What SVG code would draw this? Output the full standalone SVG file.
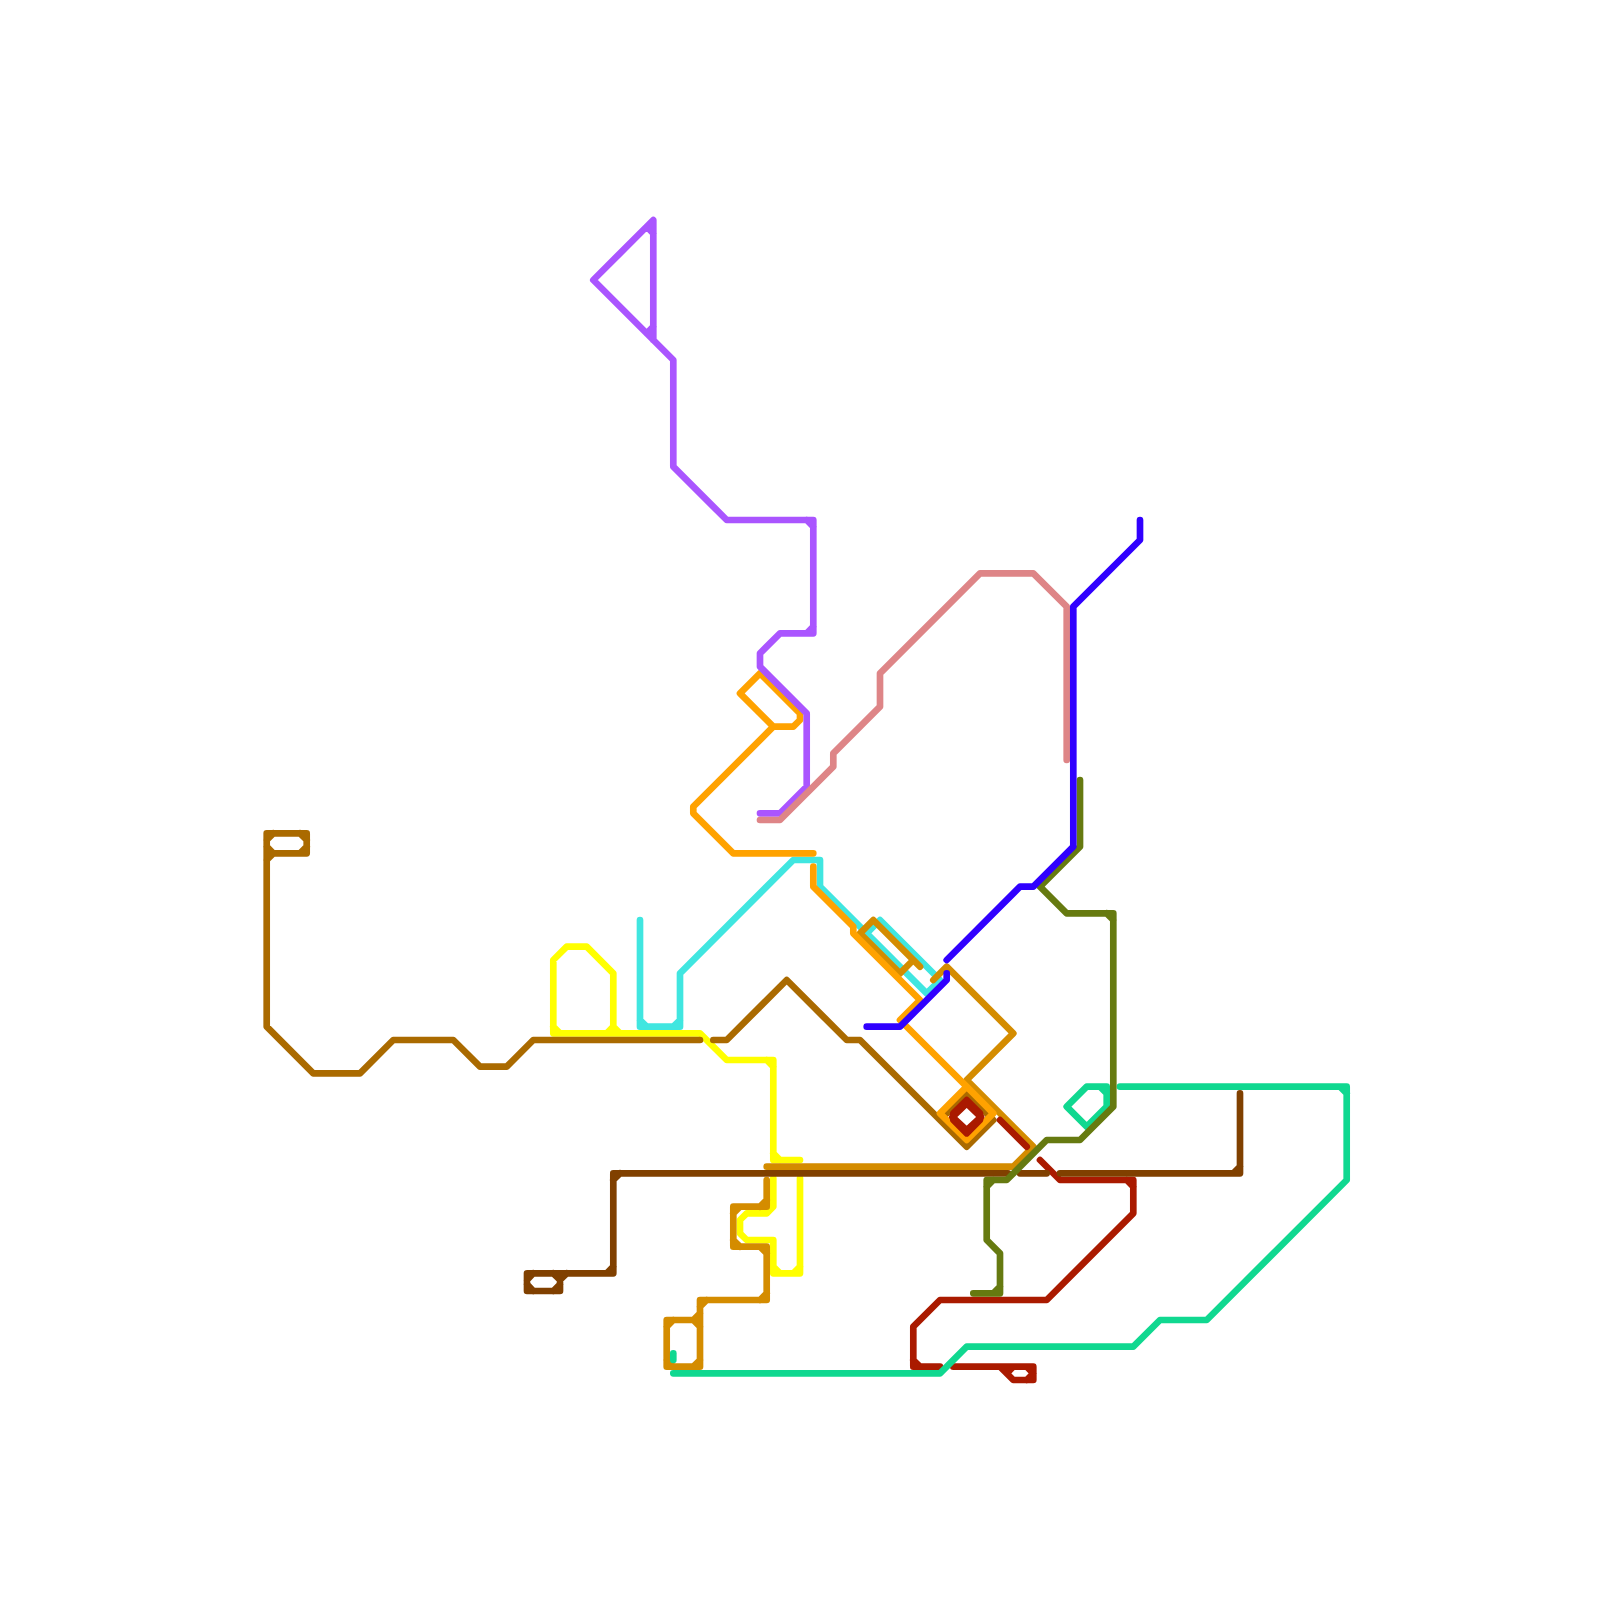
<svg xmlns="http://www.w3.org/2000/svg" width="1600" height="1600" viewBox="0 0 1600 1600">
<style>
path{fill:none;stroke-width:6.67;stroke-linejoin:round;stroke-linecap:round}
.purple{stroke:#aa55ff}.pink{stroke:#de8587}.blue{stroke:#3000ff}.olive{stroke:#667a10}.teal{stroke:#10d890}.red{stroke:#aa1a00}.bronze{stroke:#aa6a00}.orange{stroke:#ffa200}.gold{stroke:#d48c00}.yellow{stroke:#ffff00}.cyan{stroke:#40e6e0}.brown{stroke:#804000}
</style>
<rect width="1600" height="1600" fill="#ffffff"/>
<g id="connectors">
<g id="line-cyan"><path class="cyan" d="M640 920V1026.7H680V973.3L793.3 860H820V886.7L926.7 993.3L940 980L880 920L866.7 933.3M640 1020L646.7 1026.7M673.3 1026.7L680 1020"/></g>
<g id="line-yellow"><path class="yellow" d="M553.3 1033.3H700L726.7 1060H773.3V1160H800M553.3 1033.3V960L566.7 946.7H586.7L613.3 973.3V1033.3M553.3 1026.7L560 1033.3M606.7 1033.3L613.3 1026.7L620 1033.3M766.7 1060L773.3 1066.7M773.3 1153.3L780 1160M773.3 1178V1206.7L766.7 1213.3H746.7L740 1220V1233.3L746.7 1240H773.3V1273.3H800V1178M773.3 1266.7L780 1273.3M793.3 1273.3L800 1266.7"/></g>
<g id="line-bronze"><path class="bronze" d="M700 1040H533.3L506.7 1066.7H480L453.3 1040H393.3L360 1073.3H313.3L266.7 1026.7V833.3H306.7V853.3H273.3L266.7 860M266.7 840L273.3 833.3M266.7 846.7L273.3 853.3M300 833.3L306.7 840M300 853.3L306.7 846.7"/><path class="bronze" d="M713.3 1040H726.7L786.7 980L846.7 1040H860L966.7 1146.7L993.3 1120L966.7 1093.3L946.7 1113.3"/></g>
<g id="line-gold"><path class="gold" d="M766.7 1166.7H1013.3L1033.3 1146.7L966.7 1080L1013.3 1033.3L946.7 966.7L933.3 980M920 966.7L873.3 920L860 933.3L900 973.3L913.3 960"/><path class="gold" d="M766.7 1180V1206.7H733.3V1246.7H766.7V1300H700V1366.7H666.7V1320H700M760 1206.7L766.7 1200M733.3 1213.3L740 1206.7M733.3 1240L740 1246.7M760 1246.7L766.7 1253.3M760 1300L766.7 1293.3M700 1306.7L706.7 1300M693.3 1320L700 1313.3M666.7 1326.7L673.3 1320M693.3 1320L700 1326.7M666.7 1360L673.3 1366.7M693.3 1366.7L700 1360"/></g>
<g id="line-orange"><path class="orange" d="M813.3 853.3H733.3L693.3 813.3V806.7L773.3 726.7H793.3L800 720V713.3L760 673.3L740 693.3L773.3 726.7"/><path class="orange" d="M813.3 866.7V886.7L853.3 926.7V933.3L920 1000L900 1020L966.7 1086.7L993.3 1113.3L966.7 1140L940 1113.3L966.7 1086.7"/></g>
<g id="line-red"><path class="red" d="M1040 1160L1060 1180H1133.3V1213.3L1046.7 1300H940L913.3 1326.7V1366.7H940M1126.7 1180L1133.3 1186.7M913.3 1360L920 1366.7"/><path class="red" d="M953.3 1366.7H1033.3V1380H1013.3L1000 1366.7M1026.7 1366.7L1033.3 1373.3M1026.7 1380L1033.3 1373.3M1013.3 1366.7L1006.7 1373.3"/><path class="red" d="M1000 1120L1026.7 1146.7"/><path class="red" d="M966.7 1100L980 1113.3V1120L966.7 1133.3L953.3 1120V1113.3Z"/><path class="red" d="M966.7 1103.3L981 1117L966.7 1130.3L952.4 1117Z"/></g>
<g id="line-brown"><path class="brown" d="M1008 1173.3H613.3V1273.3H527V1291H560V1280L566.7 1273.3M613.3 1180L620 1173.3M606.7 1273.3L613.3 1266.7M527 1280L533.3 1273.3M527 1284.3L533.3 1291M553.3 1273.3L560 1280M553.3 1291L560 1284.3"/><path class="brown" d="M1020 1173.3H1046.7"/><path class="brown" d="M1060 1173.3H1240V1093.3M1233.3 1173.3L1240 1166.7"/></g>
<g id="line-teal"><path class="teal" d="M1120 1086.7H1346.7V1180L1206.7 1320H1160L1133.3 1346.7H966.7L940 1373.3H673.3M1340 1086.7L1346.7 1093.3"/><path class="teal" d="M673.3 1353.3V1360"/><path class="teal" d="M1086.7 1126.7L1066.7 1106.7L1086.7 1086.7H1106.7V1106.7L1086.7 1126.7M1100 1086.7L1106.7 1093.3"/></g>
<g id="line-olive"><path class="olive" d="M1080 780V846.7L1040 886.7L1066.7 913.3H1113.3V1106.7L1080 1140H1046.7L1006.7 1180H986.7V1240L1000 1253.3V1293.3H973.3M1106.7 913.3L1113.3 920M986.7 1186.7L993.3 1180M993.3 1293.3L1000 1286.7"/></g>
<g id="line-purple"><path class="purple" d="M760 813.3H780L806.7 786.7V713.3L760 666.7V653.3L780 633.3H813.3V520H726.7L673.3 466.7V360L593.3 280L653.3 220V340M806.7 633.3L813.3 626.7M806.7 520L813.3 526.7M646.7 226.7L653.3 233.3M646.7 333.3L653.3 326.7"/></g>
<g id="line-pink"><path class="pink" d="M760 820H780L833.3 766.7V753.3L880 706.7V673.3L980 573.3H1033.3L1066.7 606.7V760"/></g>
<g id="line-blue"><path class="blue" d="M1140 520V540L1073.3 606.7V846.7L1033.3 886.7H1020L946.7 960"/><path class="blue" d="M866.7 1026.7H900L946.7 980V973.3"/></g>
</g>
</svg>
